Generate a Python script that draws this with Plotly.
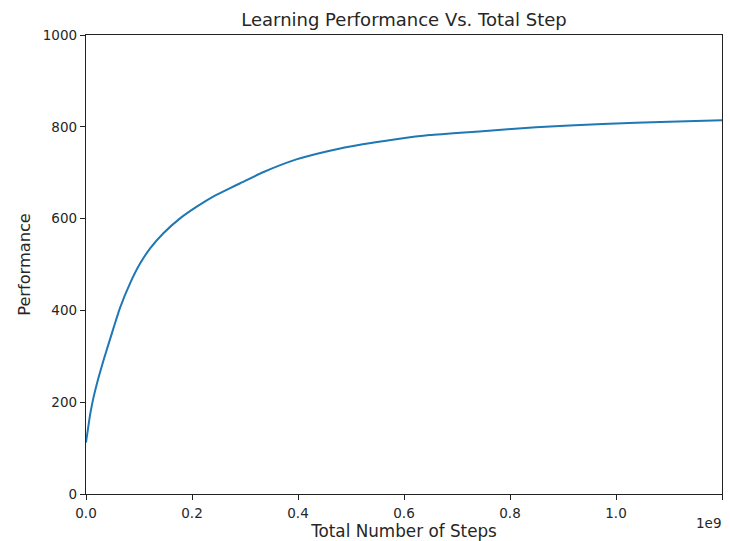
import plotly.graph_objects as go

# Data
steps = [0.0, 0.0081e9, 0.0143e9, 0.0237e9, 0.0332e9, 0.0426e9, 0.052e9, 0.064e9,
         0.0835e9, 0.102e9, 0.121e9, 0.146e9, 0.178e9, 0.209e9, 0.240e9, 0.271e9,
         0.291e9, 0.334e9, 0.397e9, 0.460e9, 0.522e9, 0.585e9, 0.648e9, 0.742e9,
         0.849e9, 0.975e9, 1.10e9, 1.2e9]
performance = [112, 175, 211, 254, 292, 327, 362, 405,
               460, 502, 535, 568, 601, 626, 648, 666,
               677, 701, 729, 748, 762, 773, 782, 790,
               799, 806, 811, 814]

x_tick_vals = [0, 0.2e9, 0.4e9, 0.6e9, 0.8e9, 1.0e9, 1.2e9]
x_tick_text = ["0.0", "0.2", "0.4", "0.6", "0.8", "1.0", "1.2"]
y_tick_vals = [0, 200, 400, 600, 800, 1000]

title_text = "Learning Performance Vs. Total Step"
x_label = "Total Number of Steps"
y_label = "Performance"
offset_text = "1e9"

font_family = "DejaVu Sans"
text_color = "#262626"

fig = go.Figure()
fig.add_trace(go.Scatter(
    x=steps, y=performance, mode="lines",
    line=dict(color="#1f77b4", width=2, shape="spline", smoothing=0.5),
    showlegend=False, hoverinfo="skip",
))

axis_common = dict(
    showline=True, linecolor="#222222", linewidth=1.3, mirror=True,
    ticks="outside", ticklen=5, tickwidth=1.2, tickcolor="#222222",
    showgrid=False, zeroline=False, automargin=False,
    tickfont=dict(family=font_family, size=13.5, color=text_color),
)

fig.update_layout(
    width=730, height=541,
    margin=dict(l=86, r=8, t=35, b=47),
    paper_bgcolor="white", plot_bgcolor="white",
    font=dict(family=font_family, color=text_color),
    title=dict(text=title_text, x=0.5, xref="paper", xanchor="center",
               y=1 - 20 / 541, yanchor="middle",
               font=dict(family=font_family, size=18, color=text_color)),
    xaxis=dict(range=[0, 1.2e9], tickvals=x_tick_vals, ticktext=x_tick_text,
               ticklabelstandoff=2,
               title=dict(text=x_label, font=dict(family=font_family, size=16.8, color=text_color),
                          standoff=5),
               **axis_common),
    yaxis=dict(range=[0, 1000], tickvals=y_tick_vals,
               title=dict(text=y_label, font=dict(family=font_family, size=16.2, color=text_color),
                          standoff=8),
               **axis_common),
)

fig.add_annotation(text=offset_text, xref="paper", yref="paper", x=1.0, y=0,
                   xanchor="right", yanchor="middle", yshift=-29, xshift=1, showarrow=False,
                   font=dict(family=font_family, size=13.5, color=text_color))

fig.write_html("out.html")
